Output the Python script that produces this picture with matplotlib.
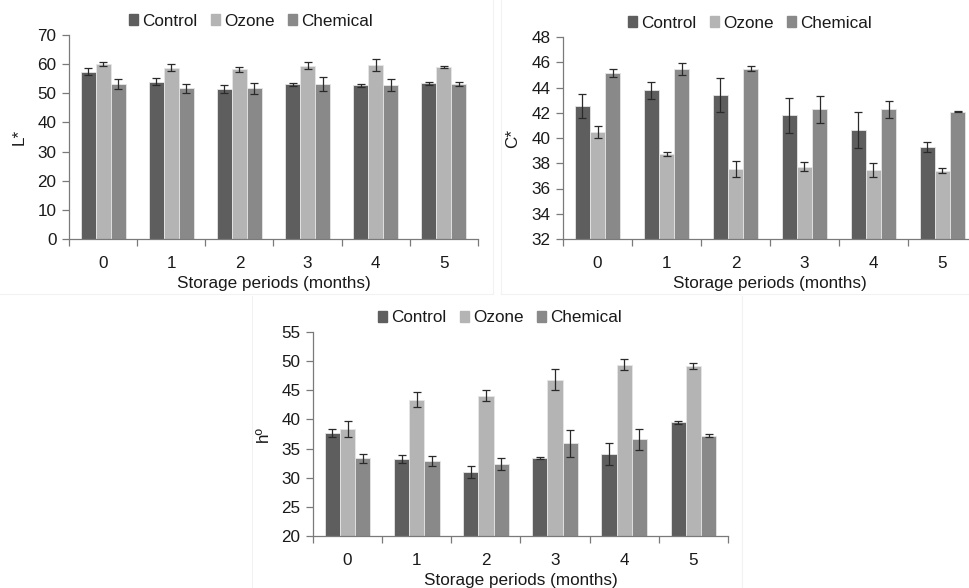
import matplotlib
matplotlib.use("Agg")
import matplotlib.pyplot as plt
from matplotlib.lines import Line2D
import numpy as np

plt.rcParams['font.family'] = ['Liberation Sans', 'DejaVu Sans']

months = ["0", "1", "2", "3", "4", "5"]
series_names = ["Control", "Ozone", "Chemical"]
colors = ["#5e5e5e", "#b4b4b4", "#898989"]

L_control = [57.4, 54.0, 51.5, 53.1, 52.8, 53.4]
L_ozone = [60.0, 58.8, 58.2, 59.5, 59.7, 59.0]
L_chemical = [53.2, 51.7, 51.7, 53.2, 52.8, 53.2]
L_control_err = [1.2, 1.3, 1.4, 0.5, 0.5, 0.6]
L_ozone_err = [0.7, 1.3, 0.9, 1.1, 2.1, 0.2]
L_chemical_err = [1.7, 1.6, 1.9, 2.3, 2.1, 0.8]

C_control = [42.55, 43.77, 43.4, 41.8, 40.62, 39.27]
C_ozone = [40.47, 38.75, 37.53, 37.74, 37.45, 37.42]
C_chemical = [45.15, 45.47, 45.5, 42.26, 42.26, 42.08]
C_control_err = [0.95, 0.65, 1.35, 1.4, 1.4, 0.4]
C_ozone_err = [0.45, 0.15, 0.65, 0.35, 0.55, 0.2]
C_chemical_err = [0.3, 0.5, 0.2, 1.1, 0.65, 0.05]

h_control = [37.6, 33.2, 31.0, 33.4, 34.05, 39.5]
h_ozone = [38.36, 43.35, 44.1, 46.8, 49.4, 49.1]
h_chemical = [33.3, 32.85, 32.4, 35.9, 36.6, 37.2]
h_control_err = [0.7, 0.7, 1.0, 0.15, 1.9, 0.2]
h_ozone_err = [1.3, 1.3, 0.9, 1.8, 0.9, 0.5]
h_chemical_err = [0.8, 0.9, 1.0, 2.3, 1.8, 0.3]

W, H = 970, 588
fig = plt.figure(figsize=(9.7, 5.88), dpi=100)
FS = 12.3


def add_ax(left, right, top, bottom):
    return fig.add_axes([left / W, 1 - bottom / H, (right - left) / W, (bottom - top) / H])


def draw(ax, vals, errs, ylim, step, ylabel, legend_xy):
    x = np.arange(len(months))
    bw = 0.22
    for i, (v, e, c) in enumerate(zip(vals, errs, colors)):
        ax.bar(x + (i - 1) * bw, np.array(v) - ylim[0], bw, bottom=ylim[0], color=c,
               edgecolor="#e6e6e6", linewidth=0.6, label=series_names[i], zorder=2)
        ax.errorbar(x + (i - 1) * bw, v, yerr=e, fmt="none", ecolor="#2a2a2a",
                    elinewidth=0.9, capsize=3, capthick=0.9, zorder=3)
    ax.set_xlim(-0.5, len(months) - 0.5)
    ax.set_ylim(*ylim)
    ax.set_yticks(np.arange(ylim[0], ylim[1] + 0.01, step))
    ax.set_xticks(x)
    ax.set_xticklabels(months)
    ax.set_xticks(np.arange(-0.5, len(months), 1.0), minor=True)
    ax.tick_params(axis="x", which="major", length=0, pad=12, labelsize=FS, colors="#1a1a1a")
    ax.tick_params(axis="x", which="minor", length=5, width=0.9, color="#7a7a7a", direction="out")
    ax.tick_params(axis="y", length=5, width=0.9, color="#7a7a7a", labelsize=FS, labelcolor="#1a1a1a", pad=4)
    for s in ["top", "right"]:
        ax.spines[s].set_visible(False)
    for s in ["left", "bottom"]:
        ax.spines[s].set_color("#7a7a7a")
        ax.spines[s].set_linewidth(0.9)
    ax.set_xlabel("Storage periods (months)", fontsize=FS, color="#1a1a1a", labelpad=4)
    ax.set_ylabel(ylabel, fontsize=FS, color="#1a1a1a", labelpad=8)
    handles = [plt.Rectangle((0, 0), 1, 1, color=c) for c in colors]
    fig.legend(handles, series_names, loc="center", bbox_to_anchor=(legend_xy[0] / W, 1 - legend_xy[1] / H),
               ncol=3, frameon=False, fontsize=FS, handlelength=0.55, handleheight=0.55,
               handletextpad=0.25, columnspacing=0.75, labelcolor="#1a1a1a")


ax1 = add_ax(69, 478, 35, 239)
draw(ax1, [L_control, L_ozone, L_chemical], [L_control_err, L_ozone_err, L_chemical_err],
     (0, 70), 10, "L*", (251, 21))

ax2 = add_ax(563, 977, 37, 239)
draw(ax2, [C_control, C_ozone, C_chemical], [C_control_err, C_ozone_err, C_chemical_err],
     (32, 48), 2, "C*", (750, 23))

ax3 = add_ax(313, 728, 332, 536)
draw(ax3, [h_control, h_ozone, h_chemical], [h_control_err, h_ozone_err, h_chemical_err],
     (20, 55), 5, "h\u00ba", (500, 318))

# faint panel frame lines
lc = "#f2f2f2"
for xs, ys in [((493, 493), (0, 294)), ((501, 501), (0, 294)), ((0, 493), (294, 294)),
               ((501, 970), (294, 294)), ((252, 252), (296, 588)), ((742, 742), (296, 588))]:
    fig.add_artist(Line2D([xs[0] / W, xs[1] / W], [1 - ys[0] / H, 1 - ys[1] / H],
                          color=lc, linewidth=0.8, transform=fig.transFigure))

fig.savefig("out.png", dpi=100)
